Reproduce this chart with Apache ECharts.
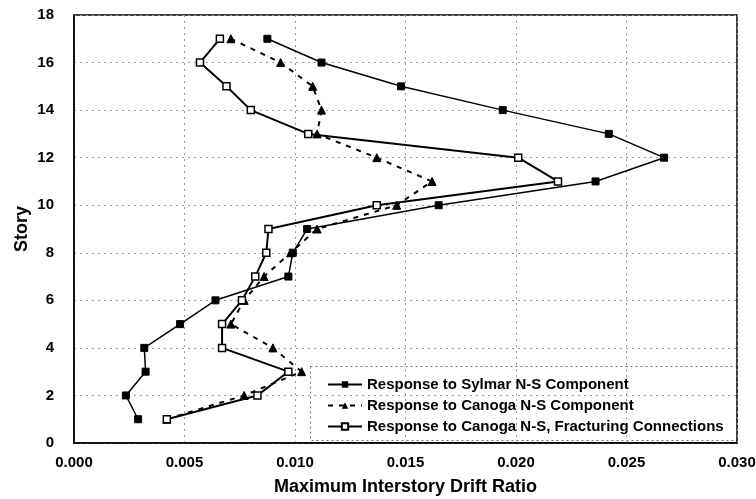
<!DOCTYPE html>
<html><head><meta charset="utf-8">
<script src="https://cdn.jsdelivr.net/npm/echarts@6/dist/echarts.min.js"></script>
<style>html,body{margin:0;padding:0;background:#fff}#c{width:756px;height:499px}</style>
</head><body><div id="c"></div>
<script>
var stories = [1,2,3,4,5,6,7,8,9,10,11,12,13,14,15,16,17];
var sylmar = [0.0029,0.00235,0.00324,0.00318,0.0048,0.0064,0.0097,0.0099,0.01055,0.0165,0.0236,0.0267,0.0242,0.0194,0.0148,0.0112,0.00875];
var canoga = [0.0042,0.0077,0.0103,0.0090,0.0071,0.0077,0.0086,0.0098,0.0110,0.0146,0.0162,0.0137,0.0110,0.0112,0.0108,0.00935,0.0071];
var fracturing = [0.0042,0.0083,0.0097,0.0067,0.0067,0.0076,0.0082,0.0087,0.0088,0.0137,0.0219,0.0201,0.0106,0.0080,0.0069,0.0057,0.0066];
var seriesNames = ['Response to Sylmar N-S Component','Response to Canoga N-S Component','Response to Canoga N-S, Fracturing Connections'];
var xTitle = 'Maximum Interstory Drift Ratio';
var yTitle = 'Story';

function pairs(vals){ return vals.map(function(v,i){ return [v, stories[i]]; }); }

var chart = echarts.init(document.getElementById('c'), null, {renderer:'canvas'});
var font = 'Liberation Sans, Arial, sans-serif';
var gridLine = {show:true, lineStyle:{color:'#999', width:1, type:[2,4]}};
chart.setOption({
  animation:false,
  textStyle:{fontFamily:font, color:'#000'},
  grid:{left:74, right:19, top:15, bottom:56, show:true, borderColor:'#000', borderWidth:1.5,
    containLabel:false, outerBoundsMode:'none'},
  xAxis:{type:'value', min:0, max:0.03, interval:0.005,
    name:xTitle, nameLocation:'middle', nameGap:35, nameMoveOverlap:false,
    nameTextStyle:{fontSize:18, fontWeight:'bold', color:'#000', fontFamily:font},
    axisLine:{show:true, lineStyle:{color:'#000', width:1.5}},
    axisTick:{show:false},
    axisLabel:{color:'#000', fontSize:15, fontWeight:'bold', margin:12, fontFamily:font, formatter:function(v){return v.toFixed(3);}},
    splitLine:gridLine},
  yAxis:{type:'value', min:0, max:18, interval:2,
    name:yTitle, nameLocation:'middle', nameGap:43, nameRotate:90, nameMoveOverlap:false,
    nameTextStyle:{fontSize:18, fontWeight:'bold', color:'#000', fontFamily:font},
    axisLine:{show:true, lineStyle:{color:'#000', width:1.5}},
    axisTick:{show:false},
    axisLabel:{color:'#000', fontSize:15, fontWeight:'bold', margin:20, fontFamily:font},
    splitLine:gridLine},
  legend:{orient:'vertical', left:322, top:372, itemWidth:34, itemHeight:8, itemGap:6,
    textStyle:{fontSize:15, fontWeight:'bold', color:'#000', fontFamily:font},
    data:seriesNames},
  graphic:[{type:'rect', left:310, top:366, shape:{width:427, height:74},
    style:{fill:'#fff', stroke:'#777', lineWidth:1, lineDash:[2,3]}, z:-1, silent:true}],
  series:[
    {name:seriesNames[0], type:'line', data:pairs(sylmar), symbol:'rect', symbolSize:7,
      lineStyle:{color:'#000', width:1.5}, itemStyle:{color:'#000', borderColor:'#000'}, z:3},
    {name:seriesNames[1], type:'line', data:pairs(canoga), symbol:'triangle', symbolSize:8,
      lineStyle:{color:'#000', width:2, type:[5,6]}, itemStyle:{color:'#000', borderColor:'#000'}, z:2},
    {name:seriesNames[2], type:'line', data:pairs(fracturing), symbol:'rect', symbolSize:7,
      lineStyle:{color:'#000', width:2}, itemStyle:{color:'#fff', borderColor:'#000', borderWidth:1.5}, z:4}
  ]
});
</script></body></html>
